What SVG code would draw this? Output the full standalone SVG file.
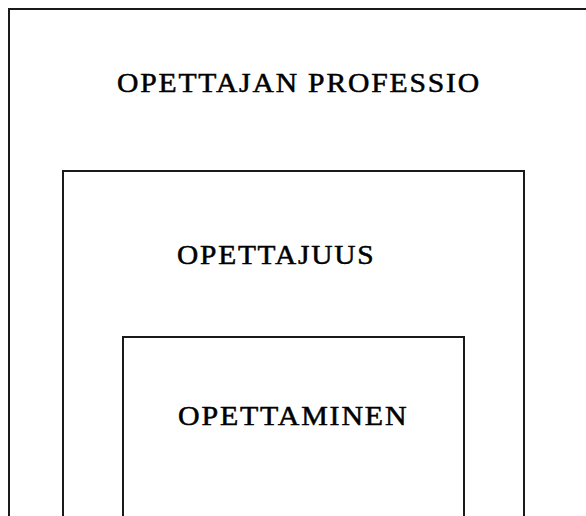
<svg xmlns="http://www.w3.org/2000/svg" width="586" height="516" viewBox="0 0 586 516">
  <style>
    .frame { fill: none; stroke: #1a1a1a; stroke-width: 2; }
    .label { font-family: "Liberation Serif", "Times New Roman", serif; font-size: 26.5px; letter-spacing: 1.6px; fill: #000; stroke: #000; stroke-width: 0.5px; }
  </style>
  <rect width="586" height="516" fill="#fff"/>
  <!-- nested boxes, each running off the lower edge -->
  <g id="professio">
    <rect class="frame" x="9" y="9" width="600" height="540"/>
    <text class="label" transform="translate(117 92) scale(1.12 1)">OPETTAJAN PROFESSIO</text>
  </g>
  <g id="opettajuus">
    <rect class="frame" x="63" y="171" width="461" height="380"/>
    <text class="label" transform="translate(177 264) scale(1.11 1)">OPETTAJUUS</text>
  </g>
  <g id="opettaminen">
    <rect class="frame" x="123" y="337" width="341" height="220"/>
    <text class="label" transform="translate(178 425) scale(1.13 1)">OPETTAMINEN</text>
  </g>
  <g id="connectors"/>
</svg>
